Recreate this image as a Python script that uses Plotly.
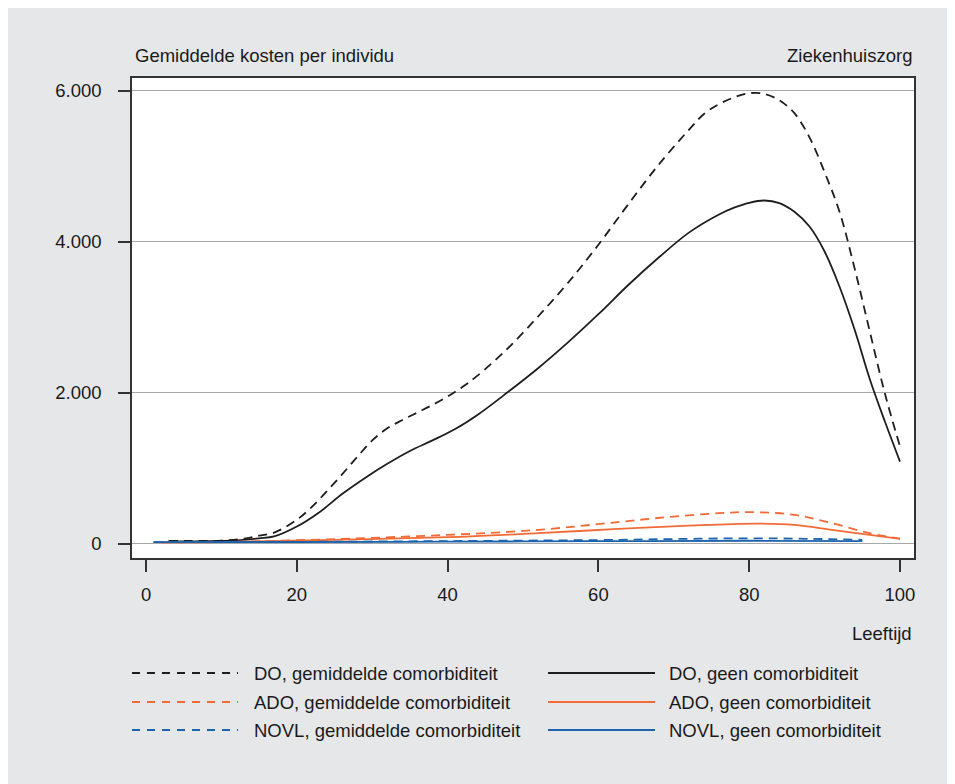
import plotly.graph_objects as go

# DO (dashed = gemiddelde comorbiditeit, solid = geen comorbiditeit)
do_gem_age = [3, 6, 10, 13, 15, 17, 20, 22, 24, 26, 28, 30, 32, 34, 36, 38, 40, 42, 44, 48,
              52, 56, 60, 64, 68, 72, 74, 76, 78, 80, 82, 84, 86, 88, 90, 92, 94, 96, 98, 100]
do_gem_cost = [40, 40, 45, 70, 110, 150, 320, 490, 700, 920, 1150, 1370, 1530, 1640, 1740,
               1840, 1950, 2080, 2230, 2590, 3010, 3460, 3960, 4500, 5020, 5480, 5690, 5820,
               5910, 5965, 5955, 5870, 5700, 5380, 4920, 4390, 3640, 2810, 1990, 1290]

do_geen_age = [3, 6, 10, 13, 15, 17, 20, 23, 26, 29, 32, 35, 38, 41, 44, 48, 52, 56, 60,
               64, 68, 72, 76, 78, 80, 82, 84, 86, 88, 90, 92, 94, 96, 98, 100]
do_geen_cost = [35, 35, 40, 55, 75, 100, 230, 420, 660, 870, 1060, 1230, 1370, 1520, 1710,
                2010, 2325, 2670, 3040, 3430, 3790, 4120, 4360, 4450, 4515, 4545, 4510, 4395,
                4200, 3870, 3400, 2830, 2180, 1620, 1090]

ado_gem_age = [2, 10, 18, 27, 40, 52, 62, 69, 76, 80, 86, 91, 96, 100]
ado_gem_cost = [20, 25, 44, 71, 120, 186, 283, 354, 407, 421, 385, 274, 142, 71]

ado_geen_age = [2, 10, 18, 40, 52, 62, 72, 81, 86, 91, 96, 100]
ado_geen_cost = [20, 25, 40, 89, 142, 195, 243, 270, 252, 186, 120, 66]

novl_gem_age = [1, 20, 40, 60, 70, 80, 88, 95]
novl_gem_cost = [25, 28, 38, 52, 65, 75, 68, 55]

novl_geen_age = [1, 20, 40, 60, 80, 95]
novl_geen_cost = [25, 26, 30, 36, 42, 38]

BLACK = '#1e1e1e'
ORANGE = '#f26a36'
BLUE = '#1c62ad'
BG = '#e6e7e9'
FONT = 'Liberation Sans, Arial, sans-serif'
DASH = '9px,6px'

series = [
    ('DO, gemiddelde comorbiditeit', do_gem_age, do_gem_cost, BLACK, DASH),
    ('DO, geen comorbiditeit', do_geen_age, do_geen_cost, BLACK, 'solid'),
    ('ADO, gemiddelde comorbiditeit', ado_gem_age, ado_gem_cost, ORANGE, DASH),
    ('ADO, geen comorbiditeit', ado_geen_age, ado_geen_cost, ORANGE, 'solid'),
    ('NOVL, gemiddelde comorbiditeit', novl_gem_age, novl_gem_cost, BLUE, DASH),
    ('NOVL, geen comorbiditeit', novl_geen_age, novl_geen_cost, BLUE, 'solid'),
]

fig = go.Figure()
for name, ages, costs, color, dash in series:
    fig.add_trace(go.Scatter(
        x=ages, y=costs, name=name, mode='lines',
        line=dict(color=color, width=1.8, dash=dash, shape='spline', smoothing=1),
        showlegend=False,
    ))

W, H = 955, 784
L, R, T, B = 124, 906, 70, 550


def px(x):
    return (x - L) / (R - L)


def py(y):
    return (B - y) / (B - T)


fig.update_layout(
    width=W, height=H,
    margin=dict(l=L, r=W - R, t=T, b=H - B),
    paper_bgcolor=BG, plot_bgcolor='white',
    separators=',.',
    font=dict(family=FONT, size=18.5, color='#1a1a1a'),
)

fig.update_xaxes(
    range=[-1.86, 101.86], tickvals=[0, 20, 40, 60, 80, 100],
    ticks='outside', ticklen=12, tickwidth=1.5, tickcolor='#333',
    showline=True, mirror=True, linecolor='#333', linewidth=1.5,
    showgrid=False, zeroline=False, ticklabelstandoff=7,
)
fig.update_yaxes(
    range=[-186, 6166], tickvals=[0, 2000, 4000, 6000], tickformat=',d',
    ticks='outside', ticklen=12, tickwidth=1.5, tickcolor='#333',
    showline=True, mirror=True, linecolor='#333', linewidth=1.5,
    showgrid=True, gridcolor='#a8a8a8', gridwidth=1,
    zeroline=True, zerolinecolor='#a8a8a8', zerolinewidth=1, ticklabelstandoff=13,
)

# titles
fig.add_annotation(text='Gemiddelde kosten per individu', xref='paper', yref='paper',
                   x=px(125), y=py(48), xanchor='left', yanchor='middle', showarrow=False)
fig.add_annotation(text='Ziekenhuiszorg', xref='paper', yref='paper',
                   x=px(906), y=py(48), xanchor='right', yanchor='middle', showarrow=False)
fig.add_annotation(text='Leeftijd', xref='paper', yref='paper',
                   x=px(906), y=py(625), xanchor='right', yanchor='middle', showarrow=False)

# legend drawn by hand: two columns, three rows
rows_y = [665, 694, 722]
cols = [(124, 230, 244), (540, 647, 659)]
for i, (name, ages, costs, color, dash) in enumerate(series):
    x0, x1, xt = cols[i % 2]
    y = rows_y[i // 2]
    fig.add_shape(type='line', xref='paper', yref='paper',
                  x0=px(x0), x1=px(x1), y0=py(y), y1=py(y),
                  line=dict(color=color, width=1.8,
                            dash='8px,7px' if dash != 'solid' else 'solid'))
    fig.add_annotation(text=name, xref='paper', yref='paper',
                       x=px(xt), y=py(y), xanchor='left', yanchor='middle', showarrow=False)

fig.write_html('out.html')
